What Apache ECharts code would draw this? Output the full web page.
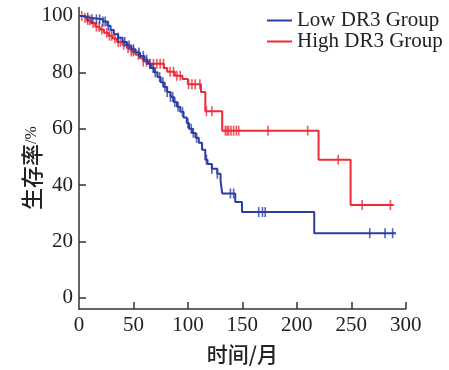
<!DOCTYPE html>
<html>
<head>
<meta charset="utf-8">
<script src="https://cdn.jsdelivr.net/npm/echarts@6/dist/echarts.min.js"></script>
<style>html,body{margin:0;padding:0;background:#fff}#c{width:449px;height:370px}</style>
</head>
<body>
<div id="c"></div>
<script>
// ---- data ----
const seriesNames = ['Low DR3 Group', 'High DR3 Group'];
const xTickLabels = [0, 50, 100, 150, 200, 250, 300];
const yTickLabels = [0, 20, 40, 60, 80, 100];

// Low DR3 group: event times (months) and survival (%) after each step
const lowTimes = [0, 4, 10, 22, 26, 29, 32, 36, 40, 44, 48, 52, 56, 60, 63, 66, 69, 72, 75, 78, 81, 84, 87, 90, 93, 96, 99, 101, 104, 107, 110, 113, 116, 118, 122, 127, 130, 131.5, 143.5, 149.7, 216];
const lowSurv  = [100, 99.4, 98.8, 98.0, 96.5, 95.0, 93.5, 92.3, 90.8, 89.5, 88.2, 87.0, 85.8, 84.5, 83.0, 81.5, 80.0, 78.3, 76.5, 74.8, 73.0, 71.3, 69.5, 67.8, 66.0, 64.0, 62.0, 60.0, 58.5, 56.8, 55.0, 52.5, 49.0, 47.5, 45.8, 44.0, 41.5, 37.0, 34.0, 30.4, 22.9];
const lowEnd = 291;
const lowCensor = [8, 12, 16, 19, 22, 24, 27, 36, 42, 46, 50, 55, 59, 62, 65, 68, 70, 74, 77, 79, 81, 84, 86, 88, 91, 95, 100, 103, 105, 108, 117, 122, 127, 139, 142, 165, 168.5, 171, 267, 281, 288];

// High DR3 group
const highTimes = [0, 3, 7, 11, 15, 19, 23, 27, 31, 35, 40, 44, 48, 52, 56, 59, 64, 78, 81, 88, 95, 100, 112, 116, 131.5, 220, 249.4];
const highSurv  = [100, 99.3, 98.5, 97.5, 96.2, 95.2, 94.0, 93.0, 92.0, 90.8, 89.8, 88.6, 87.4, 86.2, 85.0, 83.8, 83.0, 81.5, 80.2, 78.8, 77.6, 75.8, 73.0, 66.2, 59.3, 49.0, 32.9];
const highEnd = 289;
const highCensor = [2.5, 5.5, 8, 10, 13, 16, 18.5, 21, 25.5, 28, 30, 33, 36, 38, 41, 45, 48, 50, 54.5, 59, 62, 65, 68.4, 71.5, 74.5, 77.6, 83.7, 86.8, 89.9, 93, 100.6, 103.7, 106.7, 111, 117, 122, 134.4, 136, 137.4, 139.6, 142, 144.5, 146.6, 173.6, 210, 238, 260, 286];

// ---- build ----
function stepPoints(times, surv, end) {
  const pts = times.map((t, i) => [t, surv[i]]);
  pts.push([end, surv[surv.length - 1]]);
  return pts;
}
function survAt(times, surv, t) {
  let v = surv[0];
  for (let i = 0; i < times.length; i++) { if (times[i] <= t) v = surv[i]; }
  return v;
}
function censorPoints(times, surv, cens) {
  return cens.map(t => [t, survAt(times, surv, t)]);
}

const blue = '#2B3EA6';
const red = '#EE2A36';
const serif = '"Liberation Serif", "Times New Roman", serif';
const cjk = '"Noto Sans CJK SC", sans-serif';

const chart = echarts.init(document.getElementById('c'), null, {renderer: 'canvas'});
chart.setOption({
  animation: false,
  backgroundColor: '#fff',
  grid: {left: 79, right: 43.3, top: 7.5, bottom: 58.6, containLabel: false},
  legend: {
    data: seriesNames,
    orient: 'vertical',
    left: 262, top: 5,
    itemWidth: 25, itemHeight: 2, itemGap: 0,
    icon: 'rect',
    textStyle: {fontFamily: serif, fontSize: 21, color: '#222', lineHeight: 21}
  },
  xAxis: {
    type: 'value', min: 0, max: 300, interval: 50,
    name: '时间/月', nameLocation: 'middle', nameGap: 35,
    nameTextStyle: {fontFamily: cjk, fontSize: 21, fontWeight: 500, color: '#222'},
    axisLine: {onZero: false, lineStyle: {color: '#333', width: 1.5}},
    axisTick: {inside: true, length: 7, customValues: xTickLabels.slice(1), lineStyle: {color: '#333', width: 1.5}},
    axisLabel: {customValues: xTickLabels, margin: 6, fontFamily: serif, fontSize: 21, color: '#222'},
    splitLine: {show: false}
  },
  yAxis: {
    type: 'value', min: -4, max: 103,
    axisLine: {show: true, onZero: false, lineStyle: {color: '#333', width: 1.5}},
    axisTick: {show: true, inside: true, length: 7, customValues: yTickLabels, lineStyle: {color: '#333', width: 1.5}},
    axisLabel: {customValues: yTickLabels, margin: 6, fontFamily: serif, fontSize: 21, color: '#222'},
    splitLine: {show: false}
  },
  graphic: [{
    type: 'text', x: 32, y: 168, rotation: Math.PI / 2,
    style: {
      text: '{a|生存率}{b|/%}',
      align: 'center', verticalAlign: 'middle',
      rich: {
        a: {fontFamily: cjk, fontSize: 22, fontWeight: 500, fill: '#222'},
        b: {fontFamily: serif, fontSize: 16, fill: '#222'}
      }
    }
  }],
  series: [
    {name: seriesNames[0], type: 'line', step: 'end', data: stepPoints(lowTimes, lowSurv, lowEnd),
     showSymbol: false, color: blue, lineStyle: {color: blue, width: 2}, z: 3},
    {name: seriesNames[1], type: 'line', step: 'end', data: stepPoints(highTimes, highSurv, highEnd),
     showSymbol: false, color: red, lineStyle: {color: red, width: 2}, z: 2},
    {name: 'lowCensor', type: 'scatter', data: censorPoints(lowTimes, lowSurv, lowCensor),
     symbol: 'rect', symbolSize: [1.6, 10], itemStyle: {color: blue}, z: 3},
    {name: 'highCensor', type: 'scatter', data: censorPoints(highTimes, highSurv, highCensor),
     symbol: 'rect', symbolSize: [1.6, 10], itemStyle: {color: red}, z: 2}
  ]
});
</script>
</body>
</html>
